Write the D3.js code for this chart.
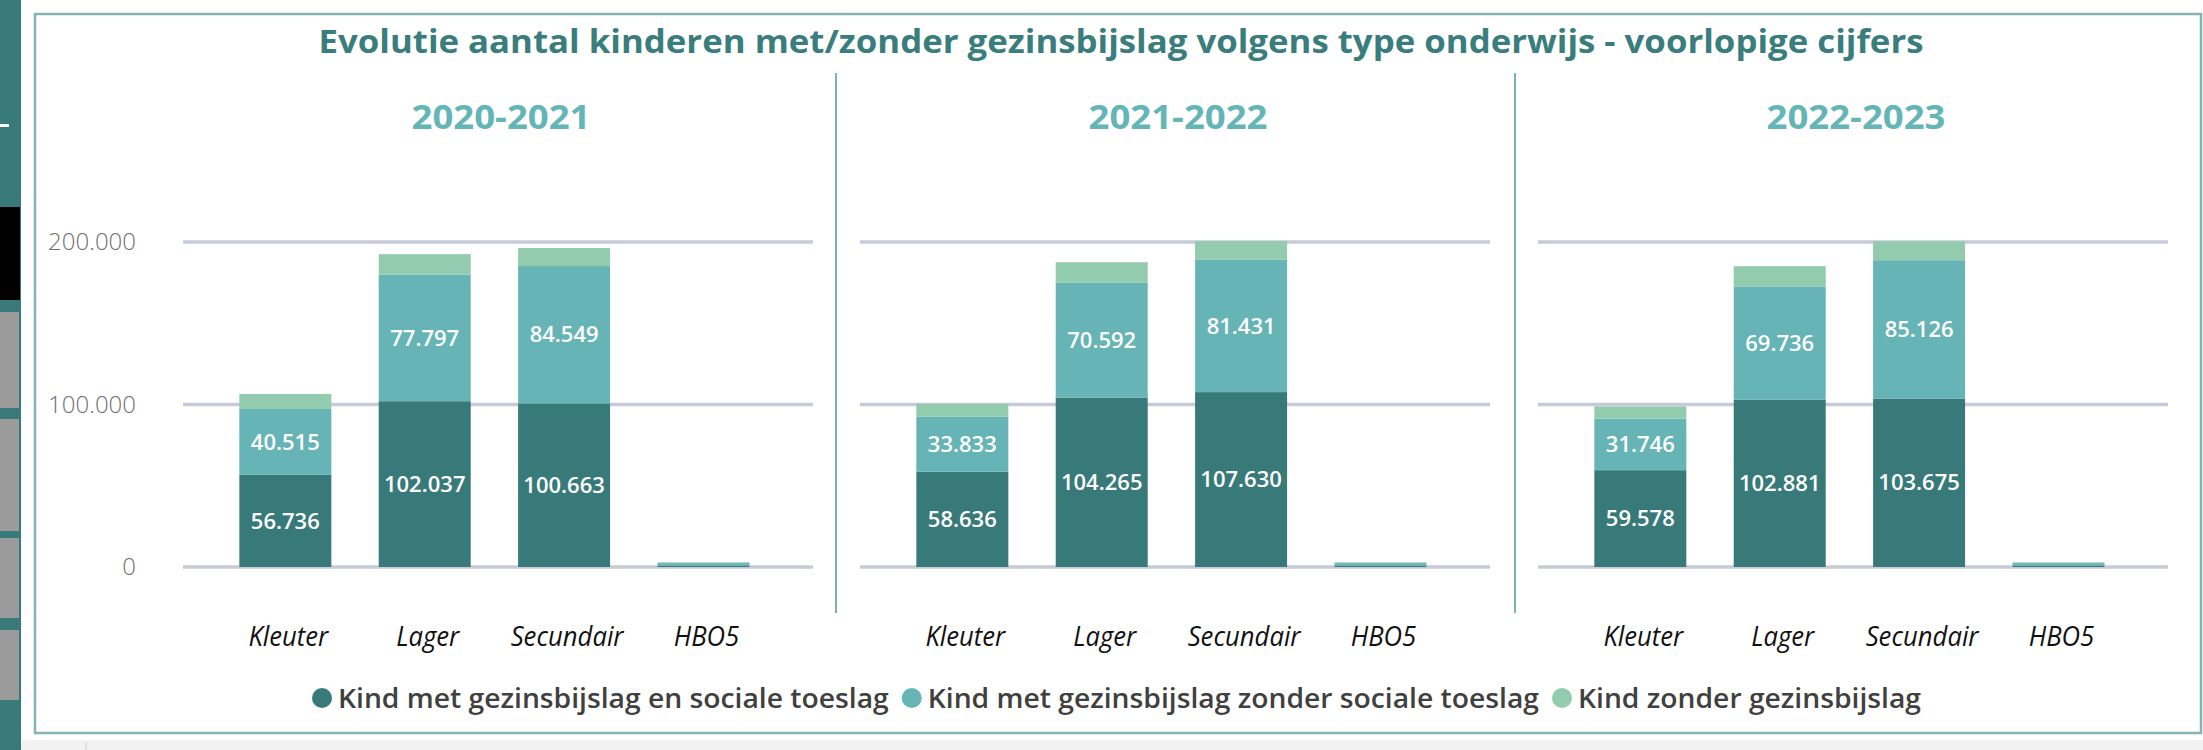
<!DOCTYPE html>
<html>
<head>
<meta charset="utf-8">
<script src="https://cdn.jsdelivr.net/npm/d3@7"></script>
<style>
  body { margin: 0; background: #fff; }
  svg { display: block; font-family: "Open Sans", "Noto Sans", sans-serif; }
</style>
</head>
<body>
<div id="chart"></div>
<script>
// chart values
var title = "Evolutie aantal kinderen met/zonder gezinsbijslag volgens type onderwijs - voorlopige cijfers";
var years = ["2020-2021", "2021-2022", "2022-2023"];
var categories = ["Kleuter", "Lager", "Secundair", "HBO5"];
var seriesNames = [
    "Kind met gezinsbijslag en sociale toeslag",
    "Kind met gezinsbijslag zonder sociale toeslag",
    "Kind zonder gezinsbijslag"
];
// one row per school year, one value per category
var metSocialeToeslag = [
    [56736, 102037, 100663, 900],
    [58636, 104265, 107630, 900],
    [59578, 102881, 103675, 900]
];
var zonderSocialeToeslag = [
    [40515, 77797, 84549, 1500],
    [33833, 70592, 81431, 1500],
    [31746, 69736, 85126, 1500]
];
var zonderGezinsbijslag = [
    [9200, 12700, 11100, 500],
    [8000, 12700, 11500, 500],
    [7500, 12500, 11700, 500]
];
var yTicks = [0, 100000, 200000];

var colors = ["#387a79", "#66b4b5", "#92cbad"];

var svgWidth = 2203;
var svgHeight = 750;

var svg = d3.select("#chart")
    .append("svg")
    .attr("width", svgWidth)
    .attr("height", svgHeight);

// side strip + bottom bar of the report page
svg.append("rect").attr("x", 0).attr("y", 0).attr("width", 21).attr("height", svgHeight).attr("fill", "#387a79");
svg.append("rect").attr("x", 0).attr("y", 124).attr("width", 9).attr("height", 3).attr("fill", "#fff");
svg.append("rect").attr("x", 0).attr("y", 207).attr("width", 20).attr("height", 93).attr("fill", "#000");
[[312, 96], [419, 112], [538, 80], [630, 70]].forEach(function(b) {
    svg.append("rect").attr("x", 0).attr("y", b[0]).attr("width", 19).attr("height", b[1]).attr("fill", "#9b9b9b");
});
svg.append("rect").attr("x", 21).attr("y", 740).attr("width", svgWidth - 21).attr("height", 10).attr("fill", "#f2f2f2");
svg.append("line").attr("x1", 86).attr("x2", 86).attr("y1", 742).attr("y2", 750).attr("stroke", "#cfcfcf");

// visual frame
svg.append("rect")
    .attr("x", 35).attr("y", 14)
    .attr("width", 2166).attr("height", 719)
    .attr("fill", "#fff")
    .attr("stroke", "#86b3b3")
    .attr("stroke-width", 2.5);

svg.append("text")
    .attr("x", 1121)
    .attr("y", 53)
    .attr("text-anchor", "middle")
    .attr("fill", "#3a7d7d")
    .attr("font-size", 33)
    .attr("font-weight", 700)
    .attr("textLength", 1605)
    .attr("lengthAdjust", "spacingAndGlyphs")
    .text(title);

// separators between the three panels
[836, 1515].forEach(function(x) {
    svg.append("line")
        .attr("x1", x).attr("x2", x)
        .attr("y1", 73).attr("y2", 613)
        .attr("stroke", "#7fb0b0")
        .attr("stroke-width", 2);
});

var plotLeft = [183, 860, 1538];
var plotWidth = 630;

var yScale = d3.scaleLinear()
    .domain([0, 200000])
    .range([567, 242]);

var xScale = d3.scaleBand()
    .domain(categories)
    .range([0, plotWidth])
    .paddingInner(0.34)
    .paddingOuter(0.43)
    .align(0.47);

var nl = d3.formatLocale({ decimal: ",", thousands: ".", grouping: [3], currency: ["€", ""] });
var fmt = nl.format(",.0f");

function squeeze(sel, f) {
    sel.each(function() {
        var w = this.getComputedTextLength();
        d3.select(this).attr("textLength", w * f).attr("lengthAdjust", "spacingAndGlyphs");
    });
}

years.forEach(function(year, p) {
    var g = svg.append("g")
        .attr("transform", `translate(${plotLeft[p]}, 0)`);

    g.append("text")
        .attr("x", plotWidth / 2 + 3)
        .attr("y", 129)
        .attr("text-anchor", "middle")
        .attr("fill", "#64b5b6")
        .attr("font-size", 34)
        .attr("font-weight", 700)
        .attr("textLength", 179)
        .attr("lengthAdjust", "spacingAndGlyphs")
        .text(year);

    // gridlines
    g.selectAll(".grid")
        .data(yTicks)
        .enter()
        .append("line")
        .attr("x1", 0)
        .attr("x2", plotWidth)
        .attr("y1", d => yScale(d))
        .attr("y2", d => yScale(d))
        .attr("stroke", "#c7cbd8")
        .attr("stroke-width", 3.5);

    if (p === 0) {
        g.selectAll(".tick")
            .data(yTicks)
            .enter()
            .append("text")
            .attr("x", -47)
            .attr("y", d => yScale(d))
            .attr("dy", "0.35em")
            .attr("text-anchor", "end")
            .attr("fill", "#6f6f6f")
            .attr("font-size", 24)
            .attr("font-weight", 300)
            .text(d => fmt(d));
    }

    var rows = categories.map(function(c, i) {
        return { cat: c, 0: metSocialeToeslag[p][i], 1: zonderSocialeToeslag[p][i], 2: zonderGezinsbijslag[p][i] };
    });
    var stacked = d3.stack().keys([0, 1, 2])(rows);

    stacked.forEach(function(layer, k) {
        g.selectAll(".bar" + k)
            .data(layer)
            .enter()
            .append("rect")
            .attr("x", d => xScale(d.data.cat))
            .attr("width", xScale.bandwidth())
            .attr("y", d => yScale(d[1]))
            .attr("height", d => yScale(d[0]) - yScale(d[1]))
            .attr("fill", colors[k]);
    });

    stacked.forEach(function(layer, k) {
        g.selectAll(".lbl" + k)
            .data(layer.filter(d => yScale(d[0]) - yScale(d[1]) > 30))
            .enter()
            .append("text")
            .attr("x", d => xScale(d.data.cat) + xScale.bandwidth() / 2)
            .attr("y", d => (yScale(d[0]) + yScale(d[1])) / 2)
            .attr("dy", "0.35em")
            .attr("text-anchor", "middle")
            .attr("fill", "#fff")
            .attr("font-size", 22)
            .attr("font-weight", 600)
            .text(d => fmt(d[1] - d[0]));
    });

    var cats = g.selectAll(".cat")
        .data(categories)
        .enter()
        .append("text")
        .attr("x", d => xScale(d) + xScale.bandwidth() / 2 + 3)
        .attr("y", 646)
        .attr("text-anchor", "middle")
        .attr("fill", "#111")
        .attr("font-size", 27)
        .attr("font-style", "italic")
        .attr("font-weight", 500)
        .text(d => d);
    squeeze(cats, 0.95);
});

// legend
var legend = svg.append("g");
var items = legend.selectAll("g")
    .data(seriesNames)
    .enter()
    .append("g");
items.append("circle")
    .attr("r", 10)
    .attr("cy", 698)
    .attr("fill", (d, i) => colors[i]);
var labels = items.append("text")
    .attr("y", 708)
    .attr("fill", "#404040")
    .attr("font-size", 27)
    .attr("font-weight", 600)
    .text(d => d);

var natural = 0;
labels.each(function() { natural += this.getComputedTextLength(); });
var f = 1505 / natural;
var x = 312;
items.each(function() {
    var it = d3.select(this);
    var t = it.select("text");
    var w = t.node().getComputedTextLength() * f;
    it.select("circle").attr("cx", x + 10);
    t.attr("x", x + 26).attr("textLength", w).attr("lengthAdjust", "spacingAndGlyphs");
    x += 26 + w + 13;
});
</script>
</body>
</html>
